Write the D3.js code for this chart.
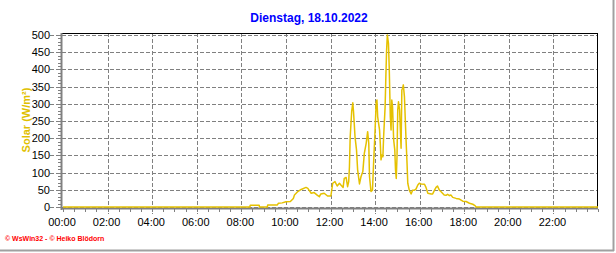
<!DOCTYPE html>
<html>
<head>
<meta charset="utf-8">
<script src="https://cdn.jsdelivr.net/npm/d3@7"></script>
<style>
  body { margin: 0; background: #fff; }
  svg { display: block; font-family: "Liberation Sans", Arial, sans-serif; }
</style>
</head>
<body>
<svg id="chart"></svg>
<script>
const width = 616;
const height = 253;

// samples (time of day, W/m²)
const times = [
  '00:00', '08:23', '08:24', '08:48', '08:49', '09:10', '09:11', '09:37', '09:40', '09:50',
  '10:00', '10:12', '10:20', '10:23', '10:32', '10:41', '10:54', '10:59', '11:08', '11:16',
  '11:25', '11:30', '11:34', '11:43', '11:52', '12:01', '12:06', '12:12', '12:18', '12:24',
  '12:28', '12:34', '12:37', '12:42', '12:46', '12:49', '12:51', '12:53', '12:57', '13:00',
  '13:02', '13:06', '13:10', '13:13', '13:18', '13:22', '13:27', '13:31', '13:36', '13:40',
  '13:43', '13:45', '13:49', '13:53', '13:56', '14:00', '14:03', '14:05', '14:07', '14:12',
  '14:14', '14:16', '14:18', '14:21', '14:23', '14:27', '14:29', '14:31', '14:33', '14:36',
  '14:38', '14:41', '14:43', '14:45', '14:47', '14:50', '14:53', '14:55', '14:57', '14:59',
  '15:01', '15:03', '15:06', '15:08', '15:10', '15:12', '15:14', '15:16', '15:19', '15:23',
  '15:26', '15:28', '15:32', '15:37', '15:41', '15:46', '15:50', '15:55', '15:59', '16:04',
  '16:13', '16:17', '16:22', '16:31', '16:35', '16:40', '16:44', '16:48', '16:53', '16:57',
  '17:06', '17:11', '17:15', '17:20', '17:24', '17:29', '17:38', '17:47', '17:56', '18:05',
  '18:14', '18:23', '18:29', '18:32', '24:00'
];
const solar = [
  0, 0, 5, 5, 0, 0, 6, 6, 11, 12,
  15, 16, 25, 35, 45, 51, 57, 54, 40, 42,
  34, 30, 38, 40, 32, 32, 69, 74, 61, 69,
  64, 57, 83, 86, 59, 74, 117, 204, 277, 303,
  277, 204, 166, 108, 67, 88, 103, 156, 185, 219,
  185, 88, 45, 49, 127, 224, 306, 311, 262, 224,
  185, 137, 151, 146, 204, 291, 379, 456, 500, 476,
  408, 262, 224, 311, 291, 195, 166, 108, 83, 146,
  282, 306, 282, 224, 171, 340, 345, 355, 321, 204,
  127, 69, 49, 38, 49, 49, 52, 64, 69, 67,
  66, 57, 40, 38, 38, 49, 57, 61, 49, 45,
  35, 34, 37, 33, 35, 28, 25, 23, 17, 16,
  11, 8, 4, 0, 0
];

const yTicks = d3.range(0, 501, 50);
const xTicks = d3.range(0, 24, 2);
const title = 'Dienstag, 18.10.2022';
const yLabel = 'Solar (W/m²)';
const footer = '© WsWin32 - © Heiko Blödorn';

const toHours = s => {
  const [h, m] = s.split(':').map(Number);
  return h + m / 60;
};

const data = times.map((t, i) => ({ hour: toHours(t), value: solar[i] }));

const svg = d3.select('#chart')
  .attr('width', width)
  .attr('height', height);

const x = d3.scaleLinear().domain([0, 24]).range([63, 598]);
const y = d3.scaleLinear().domain([0, 500]).range([207, 35]);

const grey = '#808080';

// outer panel edges
svg.append('line')
  .attr('x1', 613.5).attr('x2', 613.5).attr('y1', 0).attr('y2', 251)
  .attr('stroke', '#a0a0a0').attr('stroke-width', 2);
svg.append('line')
  .attr('x1', 0).attr('x2', 614).attr('y1', 250.5).attr('y2', 250.5)
  .attr('stroke', '#a0a0a0').attr('stroke-width', 2);

// title
svg.append('text')
  .attr('x', 309).attr('y', 22)
  .attr('text-anchor', 'middle')
  .style('font-size', '12px')
  .style('font-weight', 'bold')
  .style('fill', '#0000ff')
  .text(title);

// gridlines
svg.append('g')
  .selectAll('line')
  .data(yTicks)
  .enter()
  .append('line')
    .attr('x1', 50).attr('x2', 597)
    .attr('y1', d => Math.round(y(d)) + 0.5)
    .attr('y2', d => Math.round(y(d)) + 0.5)
    .attr('stroke', grey)
    .attr('stroke-dasharray', '4,2');

svg.append('g')
  .selectAll('line')
  .data(xTicks.filter(d => d > 0))
  .enter()
  .append('line')
    .attr('x1', d => Math.round(x(d)) + 0.5)
    .attr('x2', d => Math.round(x(d)) + 0.5)
    .attr('y1', 33).attr('y2', 214)
    .attr('stroke', grey)
    .attr('stroke-dasharray', '4,2');

// minor ticks
svg.append('g')
  .selectAll('line')
  .data(d3.range(0, 501, 10))
  .enter()
  .append('line')
    .attr('x1', 58).attr('x2', 61)
    .attr('y1', d => Math.round(y(d)) + 0.5)
    .attr('y2', d => Math.round(y(d)) + 0.5)
    .attr('stroke', grey);

svg.append('g')
  .selectAll('line')
  .data(d3.range(0, 24.01, 0.5))
  .enter()
  .append('line')
    .attr('x1', d => Math.round(x(d)) + 0.5)
    .attr('x2', d => Math.round(x(d)) + 0.5)
    .attr('y1', 209).attr('y2', 212)
    .attr('stroke', grey);

// frame: black top and right, grey axes left and bottom
svg.append('line')
  .attr('x1', 61).attr('x2', 598).attr('y1', 33.5).attr('y2', 33.5)
  .attr('stroke', '#000');
svg.append('line')
  .attr('x1', 597.5).attr('x2', 597.5).attr('y1', 33).attr('y2', 209)
  .attr('stroke', '#000');
svg.append('line')
  .attr('x1', 61.5).attr('x2', 61.5).attr('y1', 33).attr('y2', 210)
  .attr('stroke', grey).attr('stroke-width', 2);
svg.append('line')
  .attr('x1', 61).attr('x2', 598).attr('y1', 208.5).attr('y2', 208.5)
  .attr('stroke', grey).attr('stroke-width', 2);

// tick labels
svg.append('g')
  .selectAll('text')
  .data(yTicks)
  .enter()
  .append('text')
    .attr('x', 50)
    .attr('y', d => y(d) + 4)
    .attr('text-anchor', 'end')
    .style('font-size', '11px')
    .text(d => d);

svg.append('g')
  .selectAll('text')
  .data(xTicks)
  .enter()
  .append('text')
    .attr('x', d => x(d) - 1)
    .attr('y', 226)
    .attr('text-anchor', 'middle')
    .style('font-size', '11px')
    .text(d => d3.format('02d')(d) + ':00');

// y axis title
svg.append('text')
  .attr('transform', 'translate(30,120) rotate(-90)')
  .attr('text-anchor', 'middle')
  .style('font-size', '11px')
  .style('font-weight', 'bold')
  .style('fill', '#e0c000')
  .text(yLabel);

// data line
const line = d3.line()
  .x(d => x(d.hour))
  .y(d => y(d.value));

svg.append('path')
  .datum(data)
  .attr('d', line)
  .attr('fill', 'none')
  .attr('stroke', '#e5c100')
  .attr('stroke-width', 1.5)
  .attr('stroke-linejoin', 'round');

// footer
svg.append('text')
  .attr('x', 5).attr('y', 241)
  .style('font-size', '7px')
  .style('font-weight', 'bold')
  .style('fill', '#ff0000')
  .text(footer);
</script>
</body>
</html>
